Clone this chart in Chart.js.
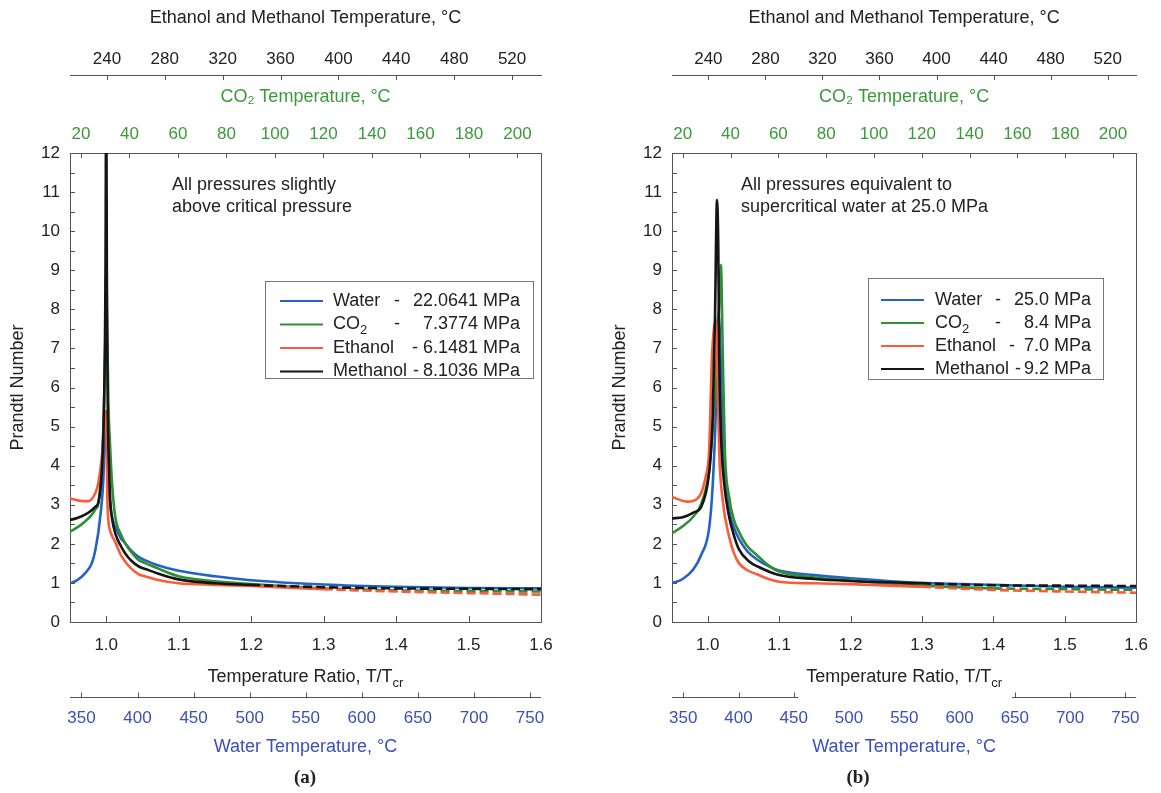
<!DOCTYPE html>
<html>
<head>
<meta charset="utf-8">
<script src="https://cdn.jsdelivr.net/npm/chart.js@4.4.1/dist/chart.umd.min.js"></script>
<style>
  body { margin: 0; background: #fff; }
  #wrap { position: relative; width: 1161px; height: 793px; overflow: hidden; }
  canvas { position: absolute; top: 0; }
  #ca { left: 0; }
  #cb { left: 580px; }
</style>
</head>
<body>
<div id="wrap">
  <canvas id="ca" width="580" height="793"></canvas>
  <canvas id="cb" width="581" height="793"></canvas>
</div>
<script>
// axis ticks
const ratioTicks = [1.0, 1.1, 1.2, 1.3, 1.4, 1.5, 1.6];
const prTicks = [0, 0.5, 1, 1.5, 2, 2.5, 3, 3.5, 4, 4.5, 5, 5.5, 6, 6.5, 7, 7.5, 8, 8.5, 9, 9.5, 10, 10.5, 11, 11.5, 12];
const alcoholTicks = [240, 280, 320, 360, 400, 440, 480, 520];
const co2Ticks = [20, 40, 60, 80, 100, 120, 140, 160, 180, 200];
const waterTempTicks = [350, 400, 450, 500, 550, 600, 650, 700, 750];

// (a) slightly above critical pressure
const waterA_T  = [0.95, 0.96, 0.971, 0.98, 0.985, 0.9917, 0.9967, 0.998, 0.9995, 1.001, 1.003, 1.006, 1.01, 1.0148, 1.02, 1.026, 1.035, 1.045, 1.055, 1.07, 1.1, 1.15, 1.2, 1.3, 1.4, 1.5, 1.6];
const waterA_Pr = [0.99, 1.07, 1.25, 1.5, 1.84, 2.69, 3.97, 5.0, 5.3, 4.3, 3.5, 2.9, 2.55, 2.35, 2.15, 2.02, 1.82, 1.66, 1.57, 1.46, 1.31, 1.17, 1.07, 0.96, 0.9, 0.87, 0.86];
const co2A_T    = [0.95, 0.96, 0.97, 0.98, 0.985, 0.989, 0.992, 0.995, 0.997, 0.999, 1.0, 1.0015, 1.003, 1.0056, 1.008, 1.0125, 1.02, 1.026, 1.035, 1.045, 1.055, 1.07, 1.1, 1.15, 1.2, 1.3, 1.4, 1.5, 1.6];
const co2A_Pr   = [2.31, 2.42, 2.56, 2.74, 2.88, 3.02, 3.55, 4.4, 5.6, 7.4, 9.1, 7.4, 5.6, 4.4, 3.55, 2.69, 2.25, 2.02, 1.78, 1.58, 1.5, 1.38, 1.17, 1.04, 0.97, 0.86, 0.81, 0.79, 0.78];
const ethA_T    = [0.95, 0.964, 0.975, 0.985, 0.989, 0.994, 0.998, 1.0, 1.0015, 1.003, 1.006, 1.0125, 1.02, 1.026, 1.035, 1.045, 1.055, 1.07, 1.1, 1.15, 1.2, 1.3, 1.4, 1.5, 1.6];
const ethA_Pr   = [3.16, 3.1, 3.09, 3.3, 3.55, 4.23, 5.25, 5.4, 3.2, 2.6, 2.3, 2.05, 1.72, 1.55, 1.36, 1.22, 1.16, 1.08, 0.99, 0.95, 0.92, 0.84, 0.78, 0.74, 0.7];
const methA_T   = [0.95, 0.96, 0.97, 0.98, 0.985, 0.989, 0.994, 0.997, 0.999, 1.0, 1.001, 1.0023, 1.004, 1.0056, 1.008, 1.0125, 1.02, 1.026, 1.035, 1.045, 1.055, 1.07, 1.1, 1.15, 1.2, 1.3, 1.4, 1.5, 1.6];
const methA_Pr  = [2.61, 2.66, 2.74, 2.86, 2.95, 3.05, 3.9, 5.6, 9.0, 14.0, 8.0, 5.25, 3.9, 3.1, 2.65, 2.27, 1.95, 1.76, 1.56, 1.42, 1.35, 1.25, 1.09, 0.99, 0.95, 0.89, 0.86, 0.85, 0.84];

// (b) equivalent to water at 25.0 MPa
const waterB_T  = [0.95, 0.965, 0.98, 0.991, 1.002, 1.007, 1.0116, 1.015, 1.0185, 1.021, 1.0255, 1.03, 1.037, 1.044, 1.055, 1.069, 1.085, 1.1, 1.15, 1.2, 1.3, 1.4, 1.5, 1.6];
const waterB_Pr = [0.99, 1.1, 1.35, 1.72, 2.4, 3.5, 5.5, 7.9, 6.53, 4.6, 3.55, 2.86, 2.4, 2.12, 1.82, 1.6, 1.43, 1.32, 1.2, 1.12, 1.0, 0.95, 0.9, 0.88];
const co2B_T    = [0.95, 0.965, 0.98, 0.991, 1.002, 1.0093, 1.0157, 1.0185, 1.021, 1.024, 1.03, 1.037, 1.044, 1.055, 1.069, 1.085, 1.1, 1.15, 1.2, 1.3, 1.4, 1.5, 1.6];
const co2B_Pr   = [2.27, 2.45, 2.7, 3.03, 3.9, 5.6, 7.97, 9.13, 6.96, 4.4, 3.2, 2.6, 2.3, 1.95, 1.71, 1.45, 1.29, 1.14, 1.06, 0.93, 0.86, 0.84, 0.82];
const ethB_T    = [0.95, 0.972, 0.985, 0.991, 0.997, 1.002, 1.006, 1.0116, 1.014, 1.016, 1.021, 1.03, 1.037, 1.044, 1.055, 1.069, 1.085, 1.1, 1.15, 1.2, 1.3, 1.4, 1.5, 1.6];
const ethB_Pr   = [3.2, 3.08, 3.15, 3.3, 3.7, 4.4, 6.79, 7.72, 6.1, 4.4, 3.12, 2.18, 1.75, 1.5, 1.33, 1.22, 1.1, 1.03, 0.99, 0.97, 0.9, 0.82, 0.78, 0.75];
const methB_T   = [0.95, 0.965, 0.98, 0.991, 1.0, 1.004, 1.007, 1.0102, 1.013, 1.0148, 1.016, 1.0185, 1.023, 1.03, 1.037, 1.044, 1.058, 1.07, 1.1, 1.15, 1.2, 1.3, 1.4, 1.5, 1.6];
const methB_Pr  = [2.65, 2.68, 2.8, 2.95, 3.55, 4.2, 5.25, 7.8, 10.8, 9.6, 6.96, 4.83, 3.55, 2.69, 2.2, 1.85, 1.55, 1.42, 1.2, 1.1, 1.05, 0.99, 0.94, 0.93, 0.92];

// legend texts
const fluidNames = ['Water', 'CO_2', 'Ethanol', 'Methanol'];
const pressuresA = ['22.0641 MPa', '7.3774 MPa', '6.1481 MPa', '8.1036 MPa'];
const pressuresB = ['25.0 MPa', '8.4 MPa', '7.0 MPa', '9.2 MPa'];
const noteA = ['All pressures slightly', 'above critical pressure'];
const noteB = ['All pressures equivalent to', 'supercritical water at 25.0 MPa'];

const FONT = '"Liberation Sans", Arial, sans-serif';
const TXT = '#222';
const AX = '#555';
const BLUE = '#2462c6', GREEN = '#2f8f35', RED = '#fa5b38', BLACK = '#151515';
const BLUE_TXT = '#3a4fc0', GREEN_TXT = '#3a9a3a';
const colors = [BLUE, GREEN, RED, BLACK];

Chart.defaults.font.family = FONT;

function pts(T, P) { return T.map((t, i) => ({ x: t, y: P[i] })); }

// draw "a_b_c" as text / subscript / text ...
function rich(ctx, str, x, y, size, draw) {
  const parts = str.split('_');
  let cx = x;
  parts.forEach((p, i) => {
    const sub = i % 2 === 1;
    ctx.font = (sub ? Math.round(size * 0.7) : size) + 'px ' + FONT;
    if (draw) ctx.fillText(p, cx, sub ? y + size * 0.35 : y);
    cx += ctx.measureText(p).width;
  });
  return cx - x;
}

const decor = {
  id: 'decor',
  afterDraw(chart, args, o) {
    const { ctx, chartArea: a, scales: s } = chart;
    const r = v => Math.round(v) + 0.5;
    const seg = (x1, y1, x2, y2) => { ctx.beginPath(); ctx.moveTo(x1, y1); ctx.lineTo(x2, y2); ctx.stroke(); };
    ctx.save();
    ctx.strokeStyle = AX;
    ctx.lineWidth = 1;
    s.y.ticks.forEach(t => {
      if (t.value > 0 && t.value < 12) { const y = r(s.y.getPixelForValue(t.value)); seg(a.left, y, a.left + 5, y); }
    });
    s.x.ticks.forEach(t => {
      const x = r(s.x.getPixelForValue(t.value));
      if (x < a.right - 3) seg(x, a.bottom, x, a.bottom - 6);
    });
    s.co2.ticks.forEach(t => { const x = r(s.co2.getPixelForValue(t.value)); seg(x, a.top, x, a.top + 5); });
    s.alc.ticks.forEach(t => { const x = r(s.alc.getPixelForValue(t.value)); seg(x, s.alc.bottom, x, s.alc.bottom + 5); });

    // x title with subscript
    ctx.fillStyle = TXT;
    ctx.textBaseline = 'middle';
    ctx.textAlign = 'left';
    const title = 'Temperature Ratio, T/T_cr';
    const tw = rich(ctx, title, 0, 0, 18, false);
    const tx = (a.left + a.right) / 2 - tw / 2;
    rich(ctx, title, tx, s.x.top + 55, 18, true);

    // water temperature axis line (optionally broken around the title)
    const wy = r(s.water.top);
    const g0 = o.breakLine ? tx - 8 : Infinity;
    const g1 = o.breakLine ? tx + tw + 10 : -Infinity;
    if (o.breakLine) {
      seg(a.left, wy, g0, wy);
      seg(g1, wy, a.right, wy);
    } else {
      seg(a.left, wy, a.right, wy);
    }
    s.water.ticks.forEach(t => {
      const x = r(s.water.getPixelForValue(t.value));
      if (x < g0 || x > g1) seg(x, wy, x, wy - 5);
    });

    // legend box
    const L = o.legend;
    ctx.strokeStyle = '#777';
    ctx.strokeRect(r(a.left + L.dx), r(a.top + L.dy), L.w, L.h);
    chart.data.datasets.forEach((ds, i) => {
      const y = a.top + L.dy + L.first + i * L.row;
      ctx.strokeStyle = ds.borderColor;
      ctx.lineWidth = 2;
      seg(a.left + L.lineX, y, a.left + L.lineX + 43, y);
      ctx.fillStyle = TXT;
      ctx.textAlign = 'left';
      const nw = rich(ctx, fluidNames[i], a.left + L.textX, y, 18, true);
      ctx.font = '18px ' + FONT;
      ctx.textAlign = 'center';
      ctx.fillText('-', a.left + L.textX + Math.max(L.dashDx[i], nw + 9), y);
      ctx.textAlign = 'right';
      ctx.fillText(o.pressures[i], a.left + L.valueX, y);
    });

    // note
    ctx.fillStyle = TXT;
    ctx.textAlign = 'left';
    ctx.font = '18px ' + FONT;
    o.note.forEach((line, i) => ctx.fillText(line, a.left + o.noteX, a.top + 32 + i * 22));

    // panel label
    ctx.font = 'bold 19px "Liberation Serif", "Times New Roman", serif';
    ctx.textAlign = 'center';
    ctx.fillText(o.label, o.labelX, 778);
    ctx.restore();
  }
};

function fixed(list) { return sc => { sc.ticks = list.map(v => ({ value: v })); }; }

function makePanel(id, p) {
  const series = [
    { label: 'Water', T: p.water[0], P: p.water[1], dash: null, order: 3 },
    { label: 'CO2', T: p.co2[0], P: p.co2[1], dash: p.dash[1], order: 2 },
    { label: 'Ethanol', T: p.eth[0], P: p.eth[1], dash: p.dash[2], order: 1 },
    { label: 'Methanol', T: p.meth[0], P: p.meth[1], dash: p.dash[3], order: 0 }
  ];
  const noGrid = { display: false, drawTicks: false };
  const tickFont = { size: 17 };
  return new Chart(document.getElementById(id), {
    type: 'line',
    data: {
      datasets: series.map((s, i) => ({
        label: s.label,
        data: pts(s.T, s.P),
        borderColor: colors[i],
        borderWidth: 2.6,
        pointRadius: 0,
        cubicInterpolationMode: 'monotone',
        order: s.order,
        segment: {
          borderDash: ctx => (s.dash !== null && ctx.p0.parsed.x >= s.dash - 1e-9) ? [9, 4] : undefined
        }
      }))
    },
    options: {
      responsive: false,
      animation: false,
      devicePixelRatio: 1,
      layout: { padding: { left: p.padLeft, right: 0, top: 0, bottom: 26 } },
      plugins: {
        legend: { display: false },
        tooltip: { enabled: false },
        decor: p.decor
      },
      scales: {
        x: {
          type: 'linear', position: 'bottom', weight: 1, min: 0.95, max: 1.6,
          afterBuildTicks: fixed(ratioTicks), afterFit: sc => { sc.height = 75; },
          grid: noGrid, border: { color: AX, width: 1 },
          ticks: { padding: 13, color: TXT, font: tickFont, autoSkip: false, maxRotation: 0, callback: v => v.toFixed(1) }
        },
        water: {
          type: 'linear', axis: 'x', position: 'bottom', weight: 2, min: 339.8, max: 759.8,
          afterBuildTicks: fixed(waterTempTicks), afterFit: sc => { sc.height = 70; },
          grid: noGrid, border: { display: false },
          ticks: { padding: 11, color: BLUE_TXT, font: tickFont, autoSkip: false, maxRotation: 0 },
          title: { display: true, text: 'Water Temperature, °C', color: BLUE_TXT, font: { size: 18 }, padding: { top: 0, bottom: 9 } }
        },
        co2: {
          type: 'linear', axis: 'x', position: 'top', weight: 1, min: 15.5, max: 209.7,
          afterBuildTicks: fixed(co2Ticks), afterFit: sc => { sc.height = 78; },
          grid: noGrid, border: { color: AX, width: 1 },
          ticks: { padding: 8, color: GREEN_TXT, font: tickFont, autoSkip: false, maxRotation: 0 },
          title: { display: true, text: 'CO₂ Temperature, °C', color: GREEN_TXT, font: { size: 18 }, padding: { top: 11, bottom: 0 } }
        },
        alc: {
          type: 'linear', axis: 'x', position: 'top', weight: 2, min: 214.5, max: 540,
          afterBuildTicks: fixed(alcoholTicks), afterFit: sc => { sc.height = 75; },
          grid: noGrid, border: { color: AX, width: 1 },
          ticks: { padding: 5, color: TXT, font: tickFont, autoSkip: false, maxRotation: 0 },
          title: { display: true, text: 'Ethanol and Methanol Temperature, °C', color: TXT, font: { size: 18 }, padding: { top: 7, bottom: 0 } }
        },
        y: {
          type: 'linear', position: 'left', min: 0, max: 12,
          afterBuildTicks: fixed(prTicks), afterFit: sc => { sc.width = 70; },
          grid: noGrid, border: { color: AX, width: 1 },
          ticks: { padding: 10, color: TXT, font: tickFont, autoSkip: false, callback: v => Number.isInteger(v) ? v : '' },
          title: { display: true, text: 'Prandtl Number', color: TXT, font: { size: 18 }, padding: { top: 7, bottom: 0 } }
        },
        yr: {
          type: 'linear', position: 'right', min: 0, max: 12,
          afterFit: sc => { sc.width = p.rightW; },
          grid: noGrid, border: { color: AX, width: 1 },
          ticks: { display: false }
        }
      }
    },
    plugins: [decor]
  });
}

makePanel('ca', {
  water: [waterA_T, waterA_Pr], co2: [co2A_T, co2A_Pr], eth: [ethA_T, ethA_Pr], meth: [methA_T, methA_Pr],
  dash: [null, 1.27, 1.27, 1.2],
  padLeft: 0, rightW: 39,
  decor: {
    pressures: pressuresA, note: noteA, noteX: 102, label: '(a)', labelX: 305, breakLine: false,
    legend: { dx: 195, dy: 128, w: 268, h: 97, first: 20, row: 23.5, lineX: 210, textX: 263, dashDx: [64, 64, 82, 79], valueX: 450 }
  }
});

makePanel('cb', {
  water: [waterB_T, waterB_Pr], co2: [co2B_T, co2B_Pr], eth: [ethB_T, ethB_Pr], meth: [methB_T, methB_Pr],
  dash: [null, 1.33, 1.3, 1.25],
  padLeft: 22, rightW: 18,
  decor: {
    pressures: pressuresB, note: noteB, noteX: 69, label: '(b)', labelX: 278, breakLine: true,
    legend: { dx: 196, dy: 125, w: 235, h: 101, first: 22, row: 23, lineX: 209, textX: 263, dashDx: [63, 63, 77, 75], valueX: 419 }
  }
});
</script>
</body>
</html>
